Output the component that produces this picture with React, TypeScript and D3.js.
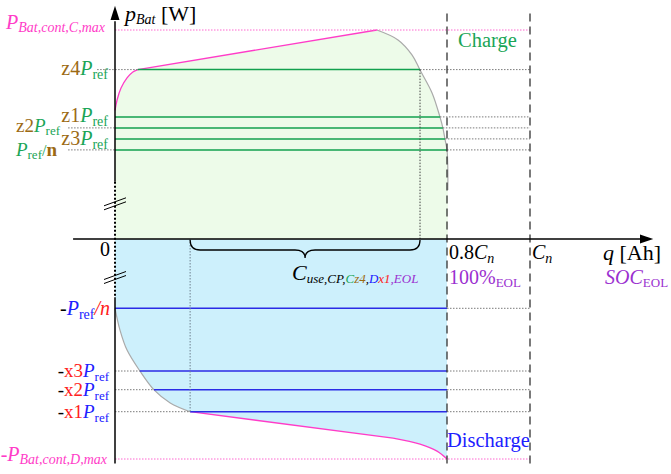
import React from "react";
import * as d3 from "d3";

const WIDTH = 671;
const HEIGHT = 474;

// q is expressed as a fraction of the nominal capacity Cn; p in arbitrary W units.
const qEol = 0.8;
const qNominal = 1;

const pMaxCharge = 95;
const pMaxDischarge = -100;

// Charge power levels: z4·Pref, z1·Pref, z2·Pref, z3·Pref, Pref/n
const chargeLevels = [77, 55.5, 50.5, 45.5, 40.5];
const chargeLineStart = [0.055, 0, 0, 0, 0];
const chargeLineEnd = [0.735, 0.783, 0.79, 0.795, 0.8];
const chargeGuideStart = [-0.043, null, -0.113, null, -0.113];

// Discharge power levels: -Pref/n, -x3·Pref, -x2·Pref, -x1·Pref
const dischargeLevels = [-31.5, -60, -68.5, -78.5];
const dischargeLineStart = [0, 0.06, 0.094, 0.181];

// Charge envelope: constant-power rise, then CV taper
const chargeRise: [number, number][] = [
  [0, 58.5], [0.005, 63.2], [0.0145, 68.6], [0.029, 73.2], [0.043, 75.9], [0.055, 77],
];
const chargeRamp: [number, number][] = [[0.055, 77], [0.631, 95]];
const chargeTaper: [number, number][] = [
  [0.631, 95], [0.682, 90.5], [0.716, 83.6], [0.735, 76.8], [0.764, 66.4],
  [0.783, 55.5], [0.79, 50.5], [0.795, 45.5], [0.8, 40.5], [0.802, 31.4], [0.802, 22.3],
];

// Discharge envelope
const dischargeKnee: [number, number][] = [
  [0, -31.5], [0.012, -41.4], [0.029, -50.5], [0.06, -60], [0.094, -68.6], [0.133, -74.5], [0.181, -78.5],
];
const dischargeRamp: [number, number][] = [
  [0.181, -78.5], [0.67, -90.5],
];
const dischargeTail: [number, number][] = [
  [0.67, -90.5], [0.735, -93.2], [0.776, -96.4], [0.8, -100],
];

const usableStart = 0.181;
const usableEnd = 0.735;

const C = {
  green: "#1aa557",
  brown: "#9c6a14",
  blue: "#2020ff",
  red: "#ff2020",
  purple: "#9b30d0",
  magenta: "#ff3cc8",
  lineGreen: "#12a04e",
  lineBlue: "#2b2be6",
  guide: "#7a7a7a",
};

type Seg = { t: string; c?: string; i?: boolean; sub?: boolean; b?: boolean; fs?: number };

const chargeLabels: { segs: Seg[]; xEnd: number; dy: number; size: number }[] = [
  { segs: [{ t: "z4", c: C.brown }, { t: "P", c: C.green, i: true }, { t: "ref", c: C.green, sub: true }], xEnd: 108, dy: 5.5, size: 20 },
  { segs: [{ t: "z1", c: C.brown }, { t: "P", c: C.green, i: true }, { t: "ref", c: C.green, sub: true }], xEnd: 108, dy: 5, size: 20 },
  { segs: [{ t: "z2", c: C.brown }, { t: "P", c: C.green, i: true }, { t: "ref", c: C.green, sub: true }], xEnd: 60, dy: 4, size: 19 },
  { segs: [{ t: "z3", c: C.brown }, { t: "P", c: C.green, i: true }, { t: "ref", c: C.green, sub: true }], xEnd: 108, dy: 6.5, size: 20 },
  { segs: [{ t: "P", c: C.green, i: true }, { t: "ref", c: C.green, sub: true }, { t: "/", c: C.green, fs: 16 }, { t: "n", c: C.brown, b: true }], xEnd: 57, dy: 6, size: 19 },
];

const dischargeLabels: { segs: Seg[]; xEnd: number; dy: number }[] = [
  { segs: [{ t: "-", c: "#000" }, { t: "P", c: C.blue, i: true }, { t: "ref", c: C.blue, sub: true }, { t: "/", c: C.red, i: true }, { t: "n", c: C.red, i: true }], xEnd: 110, dy: 6.5 },
  { segs: [{ t: "-", c: "#000" }, { t: "x3", c: C.red }, { t: "P", c: C.blue, i: true }, { t: "ref", c: C.blue, sub: true }], xEnd: 109, dy: 6 },
  { segs: [{ t: "-", c: "#000" }, { t: "x2", c: C.red }, { t: "P", c: C.blue, i: true }, { t: "ref", c: C.blue, sub: true }], xEnd: 109, dy: 6.5 },
  { segs: [{ t: "-", c: "#000" }, { t: "x1", c: C.red }, { t: "P", c: C.blue, i: true }, { t: "ref", c: C.blue, sub: true }], xEnd: 109, dy: 6.5 },
];

const FONT = "'Liberation Serif', 'Times New Roman', serif";

function Rich({ x, y, anchor = "start", segs, size = 20, subSize = 14, subShift = 4 }: {
  x: number; y: number; anchor?: string; segs: Seg[]; size?: number; subSize?: number; subShift?: number;
}) {
  let inSub = false;
  return (
    <text x={x} y={y} textAnchor={anchor} fontFamily={FONT} fontSize={size}>
      {segs.map((s, k) => {
        let dy = 0;
        if (s.sub && !inSub) { dy = subShift; inSub = true; }
        else if (!s.sub && inSub) { dy = -subShift; inSub = false; }
        return (
          <tspan
            key={k}
            dy={dy || undefined}
            fill={s.c ?? "#000"}
            fontStyle={s.i ? "italic" : undefined}
            fontWeight={s.b ? "bold" : undefined}
            fontSize={s.fs ?? (s.sub ? subSize : size)}
          >
            {s.t}
          </tspan>
        );
      })}
    </text>
  );
}

export default function App() {
  const x = d3.scaleLinear().domain([0, 1]).range([115, 530]);
  const y = d3.scaleLinear().domain([0, 100]).range([239, 19]);

  const lin = d3.line<[number, number]>().x((d) => x(d[0])).y((d) => y(d[1]));
  const smooth = d3.line<[number, number]>().x((d) => x(d[0])).y((d) => y(d[1])).curve(d3.curveCatmullRom.alpha(0.5));
  const cont = (s: string | null) => "L" + (s ?? "").slice(1);

  const riseD = smooth(chargeRise) ?? "";
  const rampD = lin(chargeRamp) ?? "";
  const taperD = smooth(chargeTaper) ?? "";
  const chargeFill =
    `M${x(0)},${y(0)}` + cont(riseD) + cont(rampD) + cont(taperD) +
    `L${x(0.802)},${y(0)}Z`;

  const kneeD = smooth(dischargeKnee) ?? "";
  const dRampD = lin(dischargeRamp) ?? "";
  const tailD = smooth(dischargeTail) ?? "";
  const dischargeFill =
    `M${x(0)},${y(0)}` + cont(kneeD) + cont(dRampD) + cont(tailD) +
    `L${x(qEol)},${y(0)}Z`;

  const ax = x(0);
  const x0 = y(0);
  const dotted = { stroke: C.guide, strokeWidth: 1, strokeDasharray: "1.5,1.5", fill: "none" };
  const pinkDotted = { stroke: "#ff66d0", strokeWidth: 1, strokeDasharray: "1.5,1.5", fill: "none" };

  // brace below the axis marking usable capacity
  const bx0 = x(usableStart), bx1 = x(usableEnd), bm = (bx0 + bx1) / 2;
  const by0 = x0 + 1, by1 = x0 + 11, by2 = x0 + 19;
  const brace = `M${bx0},${by0}Q${bx0},${by1} ${bx0 + 10},${by1}L${bm - 10},${by1}Q${bm},${by1} ${bm},${by2}` +
    `Q${bm},${by1} ${bm + 10},${by1}L${bx1 - 10},${by1}Q${bx1},${by1} ${bx1},${by0}`;

  const breakMark = (cy: number) => (
    <g stroke="#000" strokeWidth={1}>
      <line x1={ax - 11} y1={cy + 2} x2={ax + 11} y2={cy - 6} />
      <line x1={ax - 11} y1={cy + 6} x2={ax + 11} y2={cy - 2} />
    </g>
  );

  return (
    <svg width={WIDTH} height={HEIGHT} style={{ position: "absolute", left: 0, top: 0, background: "#fff" }}>
      {/* filled operating regions */}
      <path d={chargeFill} fill="#edfbe9" />
      <path d={dischargeFill} fill="#cdf0fc" />

      {/* envelopes */}
      <path d={riseD} fill="none" stroke={C.magenta} strokeWidth={1.3} />
      <path d={rampD} fill="none" stroke={C.magenta} strokeWidth={1.3} />
      <path d={taperD} fill="none" stroke="#aaa" strokeWidth={1.2} />
      <path d={kneeD} fill="none" stroke="#aaa" strokeWidth={1.2} />
      <path d={dRampD} fill="none" stroke={C.magenta} strokeWidth={1.3} />
      <path d={tailD} fill="none" stroke={C.magenta} strokeWidth={1.3} />

      {/* max power guides */}
      <line x1={x(0)} x2={x(qNominal)} y1={y(pMaxCharge)} y2={y(pMaxCharge)} {...pinkDotted} />
      <line x1={x(0)} x2={x(qNominal)} y1={y(pMaxDischarge)} y2={y(pMaxDischarge)} {...pinkDotted} />

      {/* charge levels */}
      {chargeLevels.map((p, k) => (
        <g key={"c" + k}>
          {chargeGuideStart[k] !== null && (
            <line x1={x(chargeGuideStart[k] as number)} x2={x(chargeLineStart[k])} y1={y(p)} y2={y(p)} {...dotted} />
          )}
          <line x1={x(chargeLineEnd[k])} x2={x(qNominal)} y1={y(p)} y2={y(p)} {...dotted} />
          <line x1={x(chargeLineStart[k])} x2={x(chargeLineEnd[k])} y1={y(p)} y2={y(p)} stroke={C.lineGreen} strokeWidth={1.5} />
        </g>
      ))}

      {/* discharge levels */}
      {dischargeLevels.map((p, k) => (
        <g key={"d" + k}>
          {dischargeLineStart[k] > 0 && (
            <line x1={x(0)} x2={x(dischargeLineStart[k])} y1={y(p)} y2={y(p)} {...dotted} />
          )}
          <line x1={x(qEol)} x2={x(qNominal)} y1={y(p)} y2={y(p)} {...dotted} />
          <line x1={x(dischargeLineStart[k])} x2={x(qEol)} y1={y(p)} y2={y(p)} stroke={C.lineBlue} strokeWidth={1.5} />
        </g>
      ))}

      {/* usable capacity bounds */}
      <line x1={x(usableEnd)} x2={x(usableEnd)} y1={y(chargeLevels[0])} y2={x0} stroke="#444" strokeWidth={1} strokeDasharray="1.5,1.5" />
      <line x1={x(usableStart)} x2={x(usableStart)} y1={x0} y2={y(dischargeLevels[3])} stroke="#6f8290" strokeWidth={1} strokeDasharray="1.5,1.5" />

      {/* capacity markers */}
      {[qEol, qNominal].map((q) => (
        <line key={q} x1={x(q)} x2={x(q)} y1={y(102.5)} y2={y(-104)} stroke="#333" strokeWidth={1.3} strokeDasharray="8,5" />
      ))}

      {/* axes */}
      <line x1={x(-0.101)} x2={x(1.27)} y1={x0} y2={x0} stroke="#000" strokeWidth={1.5} />
      <path d={`M${x(1.297)},${x0}L${x(1.265)},${x0 - 4.5}L${x(1.265)},${x0 + 4.5}Z`} fill="#000" />
      <line x1={ax} x2={ax} y1={y(99)} y2={y(26)} stroke="#000" strokeWidth={1.5} />
      <line x1={ax} x2={ax} y1={y(26)} y2={y(-26.5)} stroke="#000" strokeWidth={2} strokeDasharray="2,2" />
      <line x1={ax} x2={ax} y1={y(-26.5)} y2={y(-102)} stroke="#000" strokeWidth={1.5} />
      <path d={`M${ax},${y(106)}L${ax - 4.5},${y(99.5)}L${ax + 4.5},${y(99.5)}Z`} fill="#000" />
      {breakMark(y(16))}
      {breakMark(y(-17.5))}

      {/* brace */}
      <path d={brace} fill="none" stroke="#000" strokeWidth={1.3} />

      {/* axis titles */}
      <Rich x={125} y={21} size={22} subSize={14} subShift={3}
        segs={[{ t: "p", i: true }, { t: "Bat", i: true, sub: true }, { t: " [W]" }]} />
      <Rich x={603} y={260} size={22}
        segs={[{ t: "q", i: true }, { t: " [Ah]" }]} />

      {/* x labels */}
      <Rich x={100} y={256} segs={[{ t: "0" }]} />
      <Rich x={x(qEol) + 2} y={259} segs={[{ t: "0.8" }, { t: "C", i: true }, { t: "n", i: true, sub: true }]} />
      <Rich x={x(qNominal) + 2} y={259} segs={[{ t: "C", i: true }, { t: "n", i: true, sub: true }]} />
      <Rich x={x(qEol) + 2} y={284} subSize={13} subShift={3}
        segs={[{ t: "100%", c: C.purple }, { t: "EOL", c: C.purple, sub: true }]} />
      <Rich x={605} y={284} subSize={13} subShift={3}
        segs={[{ t: "SOC", c: C.purple, i: true }, { t: "EOL", c: C.purple, sub: true }]} />

      {/* usable capacity label */}
      <Rich x={292} y={280} size={22} subSize={13} subShift={3}
        segs={[
          { t: "C", i: true },
          { t: "use,CP,", i: true, sub: true },
          { t: "C", i: true, sub: true, c: C.green },
          { t: "z4", i: true, sub: true, c: C.brown },
          { t: ",", i: true, sub: true },
          { t: "D", i: true, sub: true, c: C.blue },
          { t: "x1", i: true, sub: true, c: C.red },
          { t: ",EOL", i: true, sub: true, c: C.purple },
        ]} />

      {/* region titles */}
      <text x={458} y={47} fontFamily={FONT} fontSize={20.5} fill={C.green}>Charge</text>
      <text x={447} y={447} fontFamily={FONT} fontSize={20.5} fill={C.blue}>Discharge</text>

      {/* y labels */}
      <Rich x={105} y={y(pMaxCharge) - 1} anchor="end" subSize={14} subShift={3}
        segs={[{ t: "P", i: true, c: C.magenta }, { t: "Bat,cont,C,max", i: true, sub: true, c: C.magenta }]} />
      {chargeLabels.map((l, k) => (
        <Rich key={"cl" + k} x={l.xEnd} y={y(chargeLevels[k]) + l.dy} anchor="end" segs={l.segs}
          size={l.size} subSize={l.size === 20 ? 14 : 13} subShift={l.size === 20 ? 4 : 3} />
      ))}
      {dischargeLabels.map((l, k) => (
        <Rich key={"dl" + k} x={l.xEnd} y={y(dischargeLevels[k]) + l.dy} anchor="end" segs={l.segs}
          size={k === 0 ? 20 : 19} subSize={k === 0 ? 14 : 13} />
      ))}
      <Rich x={107} y={y(pMaxDischarge) + 2} anchor="end" subSize={14} subShift={3}
        segs={[{ t: "-", c: C.magenta }, { t: "P", i: true, c: C.magenta }, { t: "Bat,cont,D,max", i: true, sub: true, c: C.magenta }]} />
    </svg>
  );
}
